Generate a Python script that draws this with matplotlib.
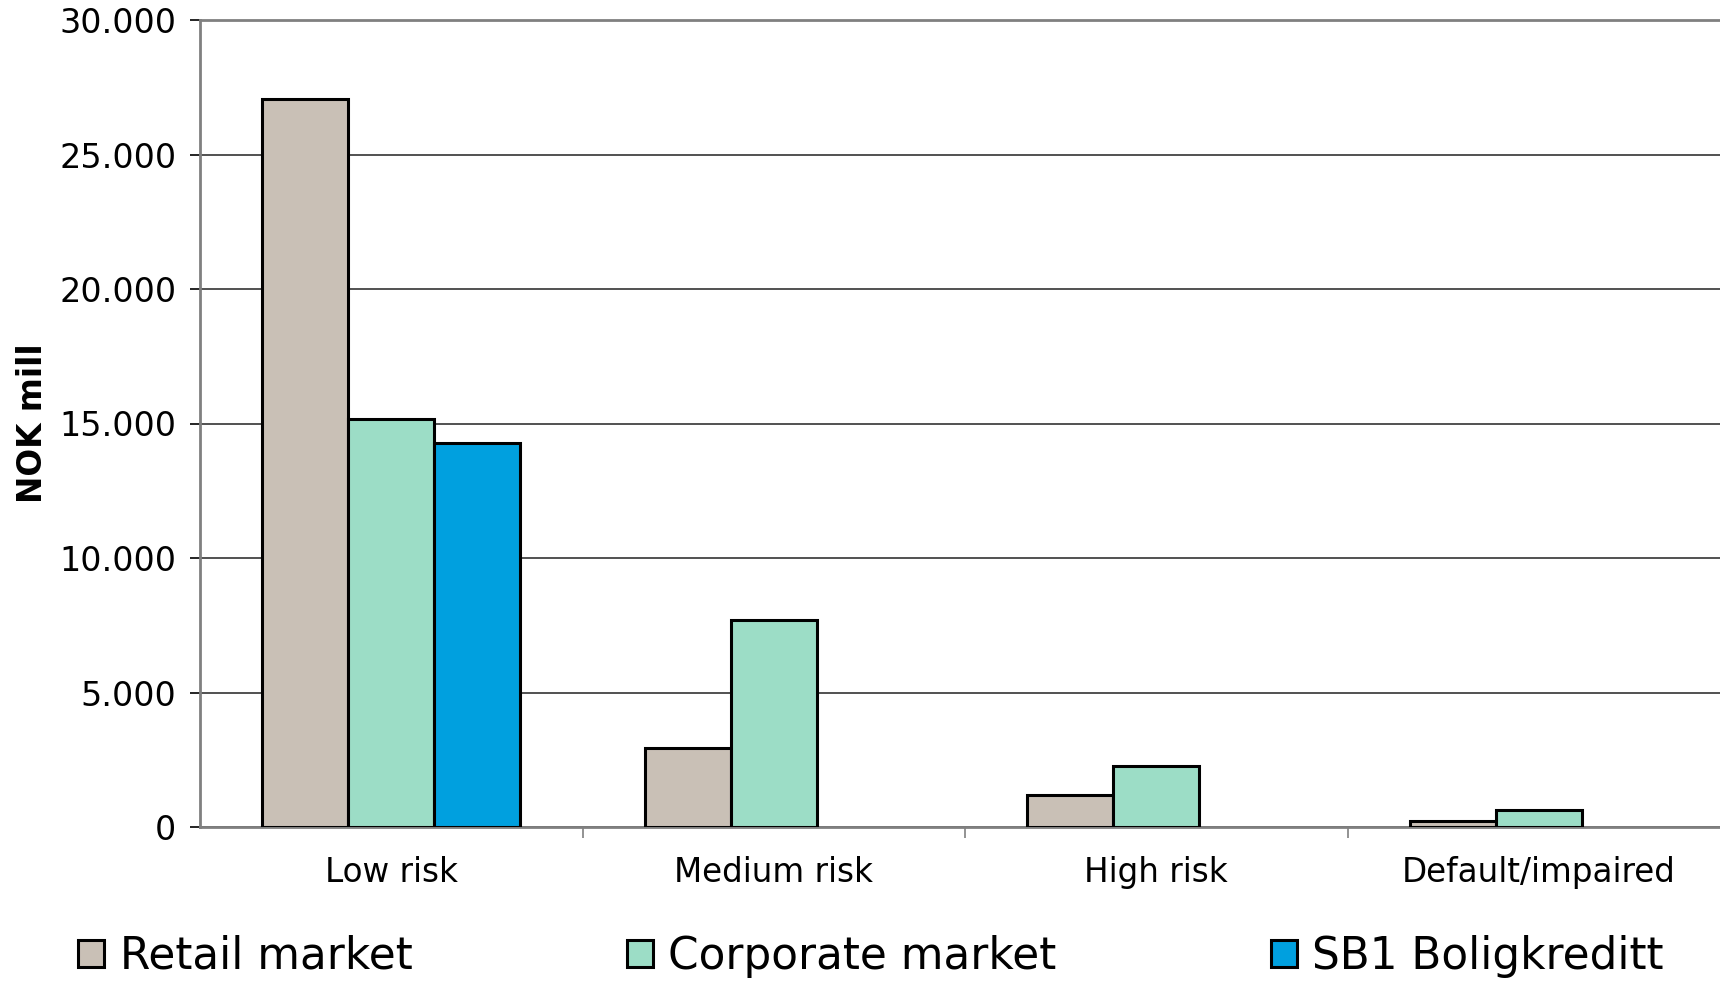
import numpy as np
import matplotlib
matplotlib.use('Agg')
from matplotlib import pyplot as plt
from matplotlib.patches import Patch
from matplotlib.ticker import FuncFormatter

# Dados
categorias = ['Low risk', 'Medium risk', 'High risk', 'Default/impaired']
series = ['Retail market', 'Corporate market', 'SB1 Boligkreditt']
retail = [27050, 2930, 1200, 220]
corporate = [15170, 7700, 2280, 640]
boligkreditt = [14270, 0, 0, 0]
cores = ['#C9C0B6', '#9CDDC6', '#00A0DF']

plt.rcParams['font.family'] = ['DejaVu Sans']

fig = plt.figure(figsize=(17.2, 9.81), dpi=100)
ax = fig.add_axes([200 / 1720, 1 - 827 / 981, 1530 / 1720, (827 - 20) / 981])

x = np.arange(len(categorias))
w = 0.225
valores = [retail, corporate, boligkreditt]
for i, (vals, cor) in enumerate(zip(valores, cores)):
    v = np.array(vals, dtype=float)
    mask = v > 0
    ax.bar(x[mask] + (i - 1) * w, v[mask], width=w, color=cor,
           edgecolor='black', linewidth=2.2, zorder=3)

ax.set_xlim(-0.5, len(categorias) - 0.5)
ax.set_ylim(0, 30000)
ax.set_yticks(np.arange(0, 30001, 5000))
ax.yaxis.set_major_formatter(FuncFormatter(lambda v, p: f'{int(v):,}'.replace(',', '.')))
ax.grid(axis='y', color='#222222', linewidth=1.1, zorder=0)

ax.set_xticks(x)
ax.set_xticklabels(categorias, fontsize=23.5)
ax.set_xticks(np.arange(0.5, len(categorias) - 0.5, 1), minor=True)
ax.tick_params(axis='x', which='major', length=0, pad=21)
ax.tick_params(axis='x', which='minor', length=8, width=1.2, color='#808080', direction='out')
ax.tick_params(axis='y', labelsize=24, length=7, width=1.2, color='black', pad=10)

ax.spines['right'].set_visible(False)
for s in ['top', 'left', 'bottom']:
    ax.spines[s].set_color('#808080')
    ax.spines[s].set_linewidth(2)

ax.set_ylabel('NOK mill', fontsize=23.5, fontweight='bold')
ax.yaxis.set_label_coords(-0.099, 0.5)

handles = [Patch(facecolor=c, edgecolor='black', linewidth=2.2) for c in cores]
fig.legend(handles, series, loc='center left', bbox_to_anchor=(78 / 1720, 0.025),
           ncol=3, frameon=False, fontsize=31.5, borderaxespad=0, borderpad=0,
           handlelength=0.6, handleheight=0.6, handletextpad=0.35, columnspacing=4.9)

fig.savefig('out.png', dpi=100)
